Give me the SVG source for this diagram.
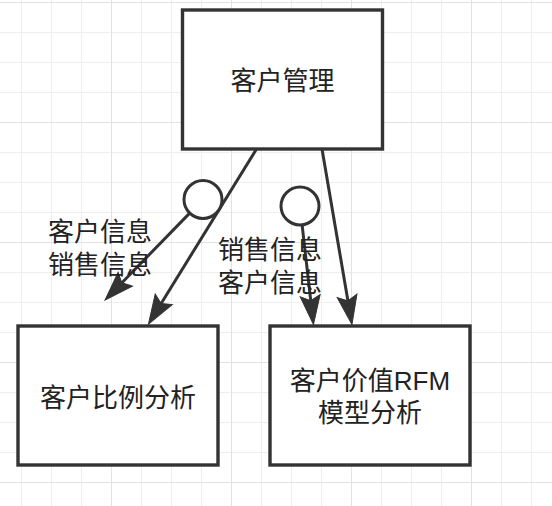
<svg xmlns="http://www.w3.org/2000/svg" width="552" height="506" viewBox="0 0 552 506">
  <style>
    .box { fill: #ffffff; stroke: #333333; stroke-width: 3.4; }
    .conn { fill: none; stroke: #333333; stroke-width: 3; }
    .lolli { fill: #ffffff; stroke: #333333; stroke-width: 3; }
    .txt { font-family: "Liberation Sans", "Noto Sans CJK SC", sans-serif; font-size: 26px; fill: #222222; text-anchor: middle; }
  </style>
  <defs>
    <pattern id="gridMinor" x="21" y="2" width="30" height="30" patternUnits="userSpaceOnUse">
      <path d="M0 0V30M0 0H30" stroke="#eeeeee" stroke-width="2" fill="none"/>
    </pattern>
    <pattern id="gridMajor" x="111" y="2" width="120" height="120" patternUnits="userSpaceOnUse">
      <path d="M0 0V120M0 0H120" stroke="#e2e2e2" stroke-width="2" fill="none"/>
    </pattern>
    <marker id="arrow" markerUnits="userSpaceOnUse" viewBox="-12 -12 34 24" markerWidth="34" markerHeight="24" refX="0" refY="0" orient="auto">
      <path d="M20 0L-9 -10L-4 0L-9 10Z" fill="#333333" stroke="#333333" stroke-width="1" stroke-linejoin="miter"/>
    </marker>
  </defs>

  <rect x="0" y="0" width="552" height="506" fill="#ffffff"/>
  <rect x="0" y="0" width="552" height="506" fill="url(#gridMinor)"/>
  <rect x="0" y="0" width="552" height="506" fill="url(#gridMajor)"/>

  <g id="node-kehuguanli">
    <rect class="box" x="182.5" y="10" width="200" height="139"/>
    <text class="txt" x="282.5" y="90">客户管理</text>
  </g>
  <g id="node-bilifenxi">
    <rect class="box" x="18" y="326" width="200" height="139"/>
    <text class="txt" x="118" y="406.5">客户比例分析</text>
  </g>
  <g id="node-rfm">
    <rect class="box" x="270" y="326" width="200" height="139"/>
    <text class="txt" x="370" y="390">客户价值RFM</text>
    <text class="txt" x="370" y="422">模型分析</text>
  </g>

  <g id="connectors">
    <path class="conn" d="M256.5 149L159 307" marker-end="url(#arrow)"/>
    <path class="conn" d="M189.7 213.1L119 285.7" marker-end="url(#arrow)"/>
    <circle class="lolli" cx="203" cy="199.5" r="19"/>
    <path class="conn" d="M302.1 224.9L311.2 304.6" marker-end="url(#arrow)"/>
    <circle class="lolli" cx="300" cy="206" r="19"/>
    <path class="conn" d="M322 149L348.6 304.8" marker-end="url(#arrow)"/>
    <text class="txt" x="100" y="241">客户信息</text>
    <text class="txt" x="100" y="273.5">销售信息</text>
    <text class="txt" x="270" y="258.5">销售信息</text>
    <text class="txt" x="270" y="291.5">客户信息</text>
  </g>
</svg>
